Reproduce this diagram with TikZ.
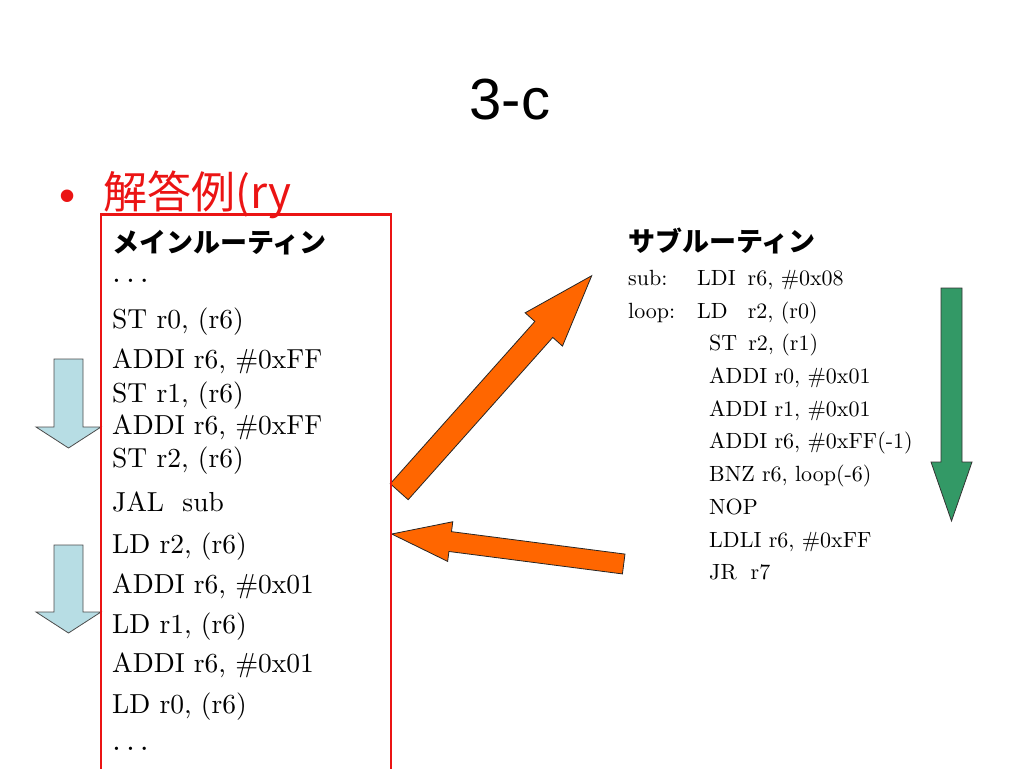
\documentclass[tikz,border=0pt]{standalone}
\usepackage{fontspec}
\newfontfamily\jpfont{Noto Sans CJK JP}
\newfontfamily\sansfont{Liberation Sans}
\newfontfamily\codefont{lmroman10-regular.otf}
\usetikzlibrary{calc}
\definecolor{arrowblue}{RGB}{183,221,228}
\definecolor{arroworange}{RGB}{255,102,0}
\definecolor{arrowgreen}{RGB}{51,153,102}
\definecolor{boxred}{RGB}{235,20,20}

\begin{document}
\begin{tikzpicture}[x=1pt,y=-1pt,
    code/.style={anchor=base west,inner sep=0pt,font=\codefont\fontsize{27.5}{32}\selectfont},
    subcode/.style={anchor=base west,inner sep=0pt,font=\codefont\fontsize{22}{26}\selectfont},
    heading/.style={anchor=west,inner sep=0pt,font=\jpfont\bfseries\fontsize{27}{32}\selectfont}]
    \useasboundingbox (0,0) rectangle (1024,768);
    \clip (0,0) rectangle (1024,768);
    \node[font=\sansfont\fontsize{58}{64}\selectfont] (T) at (510,100) {3-c};
    \node[text=boxred,font=\sansfont\fontsize{46}{48}\selectfont] (dot) at (68,201) {•};
    \node[anchor=west,inner sep=0pt,text=boxred,font=\jpfont\fontsize{44}{50}\selectfont] (ans) at (103,195) {解答例(ry};
    \coordinate (b1) at (68.5,359); \coordinate (b1e) at (68.5,448);
    \coordinate (b2) at (68.5,545); \coordinate (b2e) at (68.5,633);
    \coordinate (g) at (951.5,288); \coordinate (ge) at (951.5,521);
    \coordinate (call) at (399.2,491.7); \coordinate (sub) at (591.7,275.7);
    \coordinate (ret) at (623.7,564); \coordinate (back) at (391.7,534);
    \foreach \a/\b/\sw/\hw/\hl/\c/\d in {b1/b1e/14.5pt/32.5pt/21pt/arrowblue/black!70,
        b2/b2e/14.5pt/32.5pt/21pt/arrowblue/black!70,
        g/ge/10.5pt/20.5pt/59pt/arrowgreen/black!80,
        call/sub/12pt/25pt/72pt/arroworange/black!85,
        ret/back/10pt/20pt/59pt/arroworange/black!85}
    {
        \coordinate (h) at ($(\b)!\hl!(\a)$);
        \filldraw[fill=\c,draw=\d,line width=0.8pt] ($(\a)!\sw!90:(\b)$) -- ($(h)!\sw!90:(\b)$) -- ($(h)!\hw!90:(\b)$) -- (\b) -- ($(h)!\hw!-90:(\b)$) -- ($(h)!\sw!-90:(\b)$) -- ($(\a)!\sw!-90:(\b)$) -- cycle;
    }
    \draw[boxred,line width=2.5pt] (101,214.5) rectangle (391,790);
    \node[heading] (main) at (112,243) {メインルーティン};
    \foreach \y/\ytext [count=\i] in {282/{\fontsize{32}{32}\selectfont.\hspace{5pt}.\hspace{5pt}.},
        328/{ST r0, (r6)},368/{ADDI r6, \#0xFF},
        402/{ST r1, (r6)},434/{ADDI r6, \#0xFF},467/{ST r2, (r6)},511/{JAL\ \ sub},
        553/{LD r2, (r6)},593/{ADDI r6, \#0x01},633/{LD r1, (r6)},672/{ADDI r6, \#0x01},
        713/{LD r0, (r6)},750/{\fontsize{32}{32}\selectfont.\hspace{5pt}.\hspace{5pt}.}}
    \node[code] (m\i) at (112,\y) {\ytext};
    \node[heading] (subt) at (628,241) {サブルーティン};
    \foreach \x/\y/\ytext [count=\i] in {628/285/{sub:},697/285/{LDI\hspace{12pt}r6, \#0x08},
        628/318/{loop:},697/318/{LD\hspace{20pt}r2, (r0)},709/350/{ST\hspace{11pt}r2, (r1)},
        709/383/{ADDI r0, \#0x01},709/416/{ADDI r1, \#0x01},709/448/{ADDI r6, \#0xFF(-1)},
        709/481/{BNZ r6, loop(-6)},709/514/{NOP},709/547/{LDLI r6, \#0xFF},709/579/{JR\hspace{14pt}r7}}
    \node[subcode] (s\i) at (\x,\y) {\ytext};
\end{tikzpicture}
\end{document}
